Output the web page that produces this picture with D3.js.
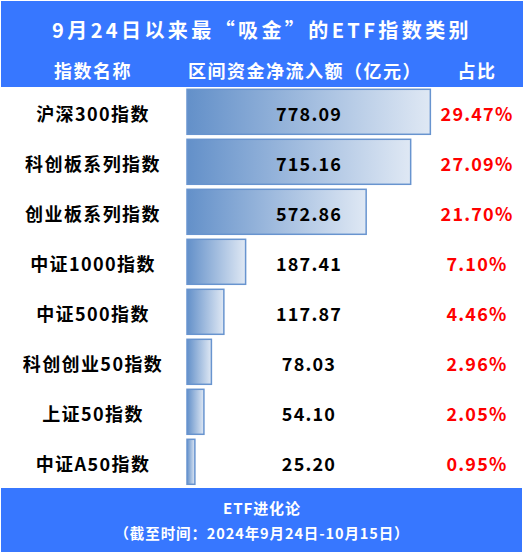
<!DOCTYPE html>
<html>
<head>
<meta charset="utf-8">
<script src="https://cdn.jsdelivr.net/npm/d3@7"></script>
<style>
  body { margin: 0; background: #fff; }
  svg text { font-family: "Noto Sans CJK SC", "Noto Sans", sans-serif; font-weight: 700; }
</style>
</head>
<body>
<script>
// data
var names = ["沪深300指数", "科创板系列指数", "创业板系列指数", "中证1000指数", "中证500指数", "科创创业50指数", "上证50指数", "中证A50指数"];
var inflows = [778.09, 715.16, 572.86, 187.41, 117.87, 78.03, 54.10, 25.20];
var shares = [29.47, 27.09, 21.70, 7.10, 4.46, 2.96, 2.05, 0.95];
var headers = ["指数名称", "区间资金净流入额（亿元）", "占比"];

var W = 525, H = 552;
var blue = "#3777ff";

var svg = d3.select("body").append("svg")
  .attr("width", W)
  .attr("height", H);

// gradient for the bars
var grad = svg.append("defs").append("linearGradient")
  .attr("id", "barGrad")
  .attr("x1", "0%").attr("x2", "100%")
  .attr("y1", "0%").attr("y2", "0%");
grad.append("stop").attr("offset", "0%").attr("stop-color", "#6390c9");
grad.append("stop").attr("offset", "100%").attr("stop-color", "#dfe8f4");

// scales
var x = d3.scaleLinear().domain([0, 800]).range([187, 187 + 250.2]);
var y = d3.scaleBand().domain(names).range([89.3, 484.3]).paddingInner(0.1).paddingOuter(0);

var colName = 93, colVal = 309, colPct = 477;

// header block
svg.append("rect")
  .attr("x", 1).attr("y", 1)
  .attr("width", 522).attr("height", 86)
  .attr("fill", blue);

svg.append("text")
  .attr("x", 262).attr("y", 29)
  .attr("text-anchor", "middle")
  .attr("dominant-baseline", "central")
  .attr("fill", "#fff")
  .attr("font-size", 20)
  .attr("letter-spacing", 3.4)
  .text("9月24日以来最“吸金”的ETF指数类别");

svg.selectAll("text.head")
  .data(headers)
  .enter().append("text")
    .attr("class", "head")
    .attr("x", function(d, i) { return [colName, 305, colPct][i]; })
    .attr("y", 70)
    .attr("text-anchor", "middle")
    .attr("dominant-baseline", "central")
    .attr("fill", "#fff")
    .attr("font-size", 18)
    .attr("letter-spacing", 1.5)
    .text(function(d) { return d; });

// rows
var rows = svg.selectAll("g.row")
  .data(names)
  .enter().append("g")
    .attr("class", "row");

rows.append("rect")
  .attr("x", x(0))
  .attr("y", function(d) { return y(d); })
  .attr("width", function(d, i) { return x(inflows[i]) - x(0); })
  .attr("height", y.bandwidth())
  .attr("fill", "url(#barGrad)")
  .attr("stroke", "#6894cf")
  .attr("stroke-width", 1.5);

rows.append("text")
  .attr("x", colName)
  .attr("y", function(d) { return y(d) + y.bandwidth() / 2 + 1; })
  .attr("text-anchor", "middle")
  .attr("dominant-baseline", "central")
  .attr("fill", "#000")
  .attr("font-size", 18)
  .attr("letter-spacing", 1.4)
  .text(function(d) { return d; });

rows.append("text")
  .attr("x", colVal)
  .attr("y", function(d) { return y(d) + y.bandwidth() / 2 + 1; })
  .attr("text-anchor", "middle")
  .attr("dominant-baseline", "central")
  .attr("fill", "#000")
  .attr("font-size", 18)
  .attr("font-weight", 500)
  .attr("letter-spacing", 1.2)
  .text(function(d, i) { return d3.format(".2f")(inflows[i]); });

rows.append("text")
  .attr("x", colPct)
  .attr("y", function(d) { return y(d) + y.bandwidth() / 2 + 1; })
  .attr("text-anchor", "middle")
  .attr("dominant-baseline", "central")
  .attr("fill", "#ff0000")
  .attr("font-size", 18)
  .attr("font-weight", 500)
  .attr("letter-spacing", 1.2)
  .text(function(d, i) { return d3.format(".2f")(shares[i]) + "%"; });

// footer block
svg.append("rect")
  .attr("x", 1).attr("y", 488)
  .attr("width", 521).attr("height", 64)
  .attr("fill", blue);

svg.append("text")
  .attr("x", 262).attr("y", 507)
  .attr("text-anchor", "middle")
  .attr("dominant-baseline", "central")
  .attr("fill", "#fff")
  .attr("font-size", 15)
  .attr("letter-spacing", 0.9)
  .text("ETF进化论");

svg.append("text")
  .attr("x", 262).attr("y", 532)
  .attr("text-anchor", "middle")
  .attr("dominant-baseline", "central")
  .attr("fill", "#fff")
  .attr("font-size", 14.5)
  .attr("letter-spacing", 0.9)
  .text("（截至时间：2024年9月24日-10月15日）");
</script>
</body>
</html>
